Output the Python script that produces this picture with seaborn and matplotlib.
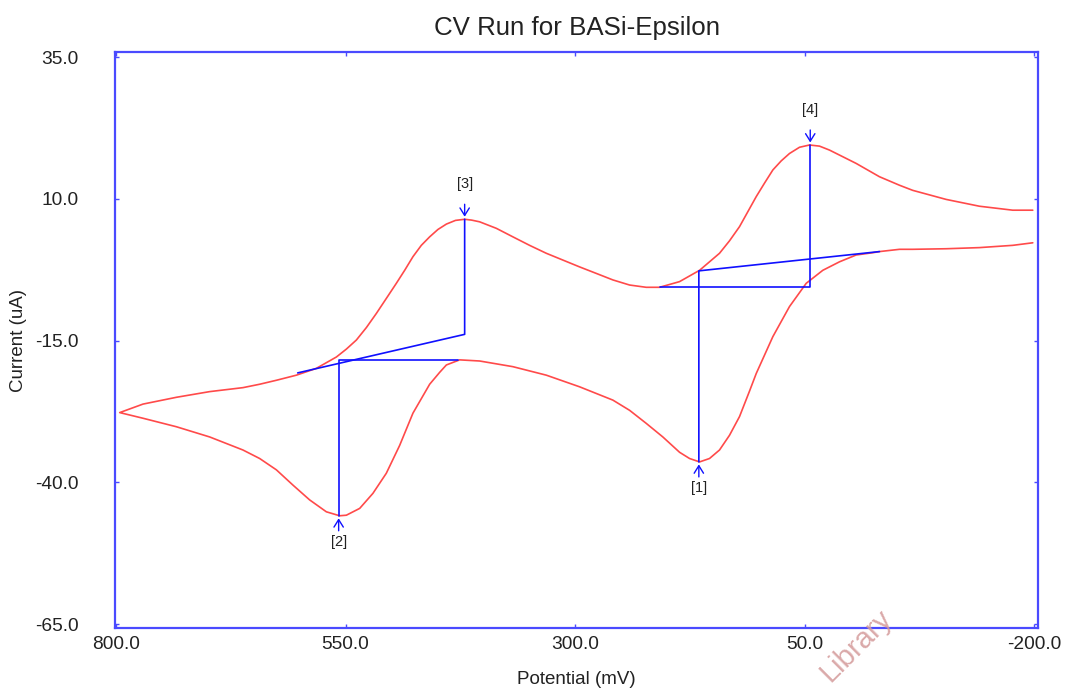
import matplotlib
matplotlib.use("Agg")
import matplotlib.pyplot as plt
import numpy as np
import pandas as pd
import seaborn as sns

# ---- data (potential in mV, current in uA) ----
# return sweep: from -200 mV side back to the 800 mV vertex (lower branch)
lower_potential = [-198.3, -176.5, -140.2, -104.0, -67.6, -53.2, -31.4, -24.1, -6.0,
                   12.1, 30.3, 48.4, 66.6, 84.7, 102.8, 110.1, 121.0, 131.9, 142.8,
                   153.7, 164.5, 175.4, 186.3, 204.5, 222.6, 240.7, 258.9, 295.2,
                   331.4, 367.8, 404.0, 425.8, 440.2, 447.5, 458.4, 476.6, 491.1,
                   505.6, 520.2, 534.6, 549.1, 556.4, 570.9, 589.1, 607.2, 625.3,
                   643.5, 661.7, 697.9, 734.1, 770.5, 795.9]
lower_current = [2.25, 1.8, 1.4, 1.2, 1.1, 1.1, 0.7, 0.5, 0.1,
                 -1.1, -2.6, -4.9, -9.0, -14.3, -20.8, -23.9, -28.4, -31.7, -34.3,
                 -35.8, -36.4, -35.8, -34.7, -32.0, -29.6, -27.3, -25.5, -23.15,
                 -21.1, -19.6, -18.6, -18.4, -19.3, -20.6, -22.7, -27.8, -33.5,
                 -38.4, -41.95, -44.6, -45.8, -45.9, -45.2, -43.1, -40.5, -37.8,
                 -35.8, -34.3, -32.0, -30.2, -28.7, -27.7]
# sweep from the 800 mV vertex towards -200 mV (upper branch)
upper_potential = [795.9, 770.5, 734.1, 697.9, 661.7, 643.5, 625.3, 603.5, 581.8,
                   560.0, 549.1, 538.2, 527.3, 516.4, 504.1, 494.7, 485.6, 476.6,
                   467.5, 458.4, 449.4, 440.2, 430.3, 420.3, 412.7, 404.0, 385.8,
                   367.8, 349.6, 331.4, 313.3, 295.2, 277.0, 258.9, 240.7, 222.6,
                   208.1, 186.3, 164.5, 142.8, 131.9, 121.0, 102.8, 93.7, 84.7,
                   75.6, 66.6, 55.7, 44.8, 33.9, 23.0, -6.0, -31.4, -53.2, -67.6,
                   -104.0, -140.2, -176.5, -198.3]
upper_current = [-27.7, -26.2, -25.0, -24.0, -23.3, -22.7, -22.0, -21.1, -19.9,
                 -17.9, -16.5, -14.9, -12.7, -10.2, -7.2, -4.9, -2.6, -0.2,
                 1.8, 3.3, 4.6, 5.55, 6.2, 6.4, 6.25, 5.95, 4.8,
                 3.3, 1.8, 0.4, -0.8, -2.0, -3.15, -4.3, -5.2, -5.6,
                 -5.6, -4.6, -2.6, 0.4, 2.6, 5.1, 10.4, 12.8, 15.1,
                 16.7, 18.0, 19.1, 19.5, 19.3, 18.6, 16.25, 13.9, 12.4, 11.5,
                 9.9, 8.7, 8.0, 8.0]

# peak baselines (blue): each is a polyline
peak_labels = ["[1]", "[2]", "[3]", "[4]"]
peak_potential = [165.3, 557.5, 420.3, 44.0]
peak_current = [-36.4, -45.9, 6.4, 19.5]
base1_potential = [-31.4, 165.3, 165.3]
base1_current = [0.7, -2.7, -36.4]
base2_potential = [427.9, 557.5, 557.5]
base2_current = [-18.4, -18.4, -45.9]
base3_potential = [602.1, 420.3, 420.3]
base3_current = [-20.7, -13.9, 6.4]
base4_potential = [208.1, 44.0, 44.0]
base4_current = [-5.6, -5.6, 19.5]

x_ticks = [800.0, 550.0, 300.0, 50.0, -200.0]
y_ticks = [35.0, 10.0, -15.0, -40.0, -65.0]

# ---- styling ----
sns.set_theme(style="white")
plt.rcParams["font.family"] = ["Liberation Sans", "DejaVu Sans"]

RED = "#ff4a4a"
BLUE = "#1010ff"
SPINE = "#4a4aff"
TXT = "#222222"

fig = plt.figure(figsize=(10.70, 6.89), dpi=100)
ax = fig.add_axes([0.1075, 0.0885, 0.8626, 0.836])

curve = pd.DataFrame({
    "potential": lower_potential + upper_potential,
    "current": lower_current + upper_current,
})
sns.lineplot(data=curve, x="potential", y="current", sort=False, estimator=None,
             color=RED, linewidth=1.2, ax=ax)

bases = []
for i, (bp, bc) in enumerate([(base1_potential, base1_current),
                              (base2_potential, base2_current),
                              (base3_potential, base3_current),
                              (base4_potential, base4_current)]):
    bases.append(pd.DataFrame({"potential": bp, "current": bc, "peak": i}))
bases = pd.concat(bases, ignore_index=True)
sns.lineplot(data=bases, x="potential", y="current", units="peak", sort=False,
             estimator=None, color=BLUE, linewidth=1.2, ax=ax)

# peak markers
for lab, px, py in zip(peak_labels, peak_potential, peak_current):
    up = py > -10  # oxidation peaks above, reduction peaks below
    s = 1 if up else -1
    ax.annotate("", xy=(px, py), xycoords="data",
                xytext=(0, s * 15), textcoords="offset pixels",
                arrowprops=dict(arrowstyle="->,head_length=0.45,head_width=0.28",
                                color=BLUE, lw=1.0, shrinkA=0, shrinkB=2.5 * 0.72))
    ax.annotate(lab, xy=(px, py), xycoords="data",
                xytext=(0, s * (35 if up else 26)), textcoords="offset pixels",
                ha="center", va="center", fontsize=10.5, color=TXT)

ax.set_xlim(801, -204)
ax.set_ylim(-65.7, 35.9)
ax.set_xticks(x_ticks)
ax.set_yticks(y_ticks)
ax.set_xticklabels([f"{v:.1f}" for v in x_ticks])
ax.set_yticklabels([f"{v:.1f}" for v in y_ticks])
ax.tick_params(axis="both", direction="in", length=3, width=1, color=SPINE,
               labelcolor=TXT, labelsize=13.8, top=True, right=True,
               bottom=True, left=True)
ax.tick_params(axis="y", pad=26)
ax.tick_params(axis="x", pad=6)
for sp in ax.spines.values():
    sp.set_color(SPINE)
    sp.set_linewidth(1.6)
    sp.set_visible(True)

ax.set_xlabel("Potential (mV)", fontsize=13.5, color=TXT, labelpad=13)
ax.set_ylabel("Current (uA)", fontsize=13.5, color=TXT, labelpad=6)
ax.set_title("CV Run for BASi-Epsilon", fontsize=18.6, color=TXT, pad=12)

fig.text(0.800, 0.063, "Library", rotation=45, fontsize=21, color="#d49a9a",
         alpha=0.85, ha="center", va="center")

fig.savefig("out.png", dpi=100)
